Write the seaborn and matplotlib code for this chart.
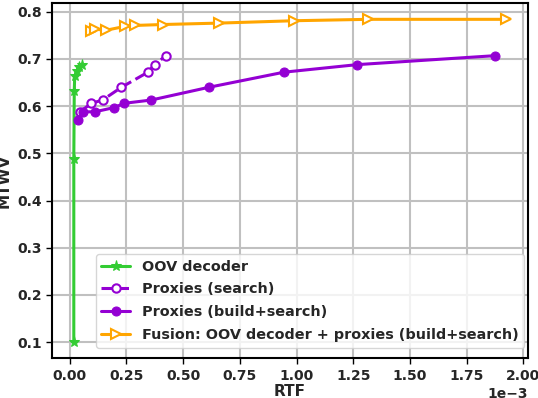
import seaborn as sns
import matplotlib.pyplot as plt
import pandas as pd
import numpy as np

# values (RTF in units of 1e-3)
oov_rtf = [0.018, 0.018, 0.02, 0.022, 0.03, 0.04, 0.055]
oov_mtwv = [0.10, 0.488, 0.633, 0.663, 0.675, 0.682, 0.688]

search_rtf = [0.045, 0.096, 0.145, 0.228, 0.345, 0.374, 0.425]
search_mtwv = [0.588, 0.606, 0.613, 0.640, 0.672, 0.688, 0.707]

build_rtf = [0.038, 0.06, 0.111, 0.196, 0.24, 0.36, 0.614, 0.945, 1.268, 1.876]
build_mtwv = [0.571, 0.588, 0.588, 0.597, 0.606, 0.613, 0.640, 0.672, 0.688, 0.707]

fusion_rtf = [0.096, 0.111, 0.162, 0.243, 0.286, 0.411, 0.659, 0.988, 1.317, 1.924]
fusion_mtwv = [0.760, 0.763, 0.761, 0.769, 0.771, 0.773, 0.776, 0.781, 0.784, 0.784]

sns.set_style("whitegrid", {"grid.color": "#c0c0c0", "axes.edgecolor": "black",
                            "xtick.bottom": True, "ytick.left": True})
plt.rcParams['font.family'] = ['DejaVu Sans']
plt.rcParams['font.weight'] = 'bold'
plt.rcParams['axes.labelweight'] = 'bold'

fig, ax = plt.subplots(figsize=(5.38, 3.98), dpi=100)
fig.subplots_adjust(left=0.097, right=0.981, top=0.992, bottom=0.10)

scale = 1e-3
df_oov = pd.DataFrame({'x': np.array(oov_rtf) * scale, 'y': oov_mtwv})
df_search = pd.DataFrame({'x': np.array(search_rtf) * scale, 'y': search_mtwv})
df_build = pd.DataFrame({'x': np.array(build_rtf) * scale, 'y': build_mtwv})
df_fusion = pd.DataFrame({'x': np.array(fusion_rtf) * scale, 'y': fusion_mtwv})

lw = 2.2
sns.lineplot(data=df_oov, x='x', y='y', sort=False, estimator=None, ax=ax,
             color='#33cc33', marker='*', markersize=8, linewidth=lw,
             markerfacecolor='#33cc33', markeredgecolor='#33cc33', label='OOV decoder')
sns.lineplot(data=df_search, x='x', y='y', sort=False, estimator=None, ax=ax,
             color='#9400d3', marker='o', markersize=6, linewidth=lw, linestyle='--',
             markerfacecolor='white', markeredgecolor='#9400d3', markeredgewidth=1.5,
             label='Proxies (search)')
sns.lineplot(data=df_build, x='x', y='y', sort=False, estimator=None, ax=ax,
             color='#9400d3', marker='o', markersize=6.5, linewidth=lw,
             markeredgecolor='#9400d3', label='Proxies (build+search)')
sns.lineplot(data=df_fusion, x='x', y='y', sort=False, estimator=None, ax=ax,
             color='#ffa500', marker='>', markersize=6.5, linewidth=lw,
             markerfacecolor='white', markeredgecolor='#ffa500', markeredgewidth=1.5,
             label='Fusion: OOV decoder + proxies (build+search)')

ax.set_xlabel("RTF", fontsize=11, labelpad=1)
ax.set_ylabel("MTWV", fontsize=11)
ax.ticklabel_format(axis='x', style='sci', scilimits=(-3, -3))
ax.xaxis.get_offset_text().set_fontsize(10)
ax.tick_params(labelsize=10, length=4, width=1, color='black')
for s in ax.spines.values():
    s.set_linewidth(1.5)
ax.grid(linewidth=1.5)
ax.legend(loc='lower right', bbox_to_anchor=(0.993, 0.03), borderaxespad=0,
          fontsize=10.4, labelspacing=0.6, framealpha=0.8)

plt.savefig("out.png", dpi=100)
